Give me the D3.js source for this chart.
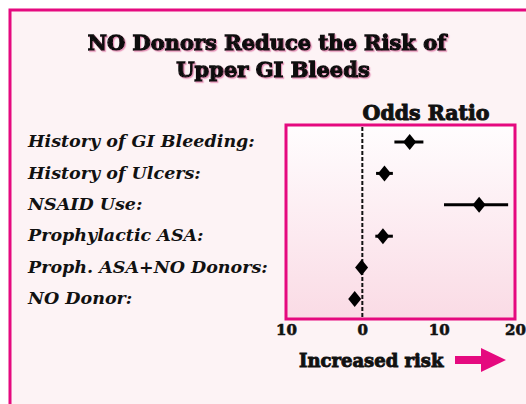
<!DOCTYPE html>
<html>
<head>
<meta charset="utf-8">
<script src="https://cdn.jsdelivr.net/npm/d3@7"></script>
<style>
  body { margin: 0; background: #fff; }
  svg { display: block; }
  .title { font-family: "DejaVu Serif", serif; font-weight: bold; fill: #111; stroke: #111; paint-order: stroke; }
</style>
</head>
<body>
<div id="chart-area"></div>
<script>
// SVG Size
var width = 526,
	height = 404;

// data
var factors = ["History of GI Bleeding:", "History of Ulcers:", "NSAID Use:", "Prophylactic ASA:", "Proph. ASA+NO Donors:", "NO Donor:"];
var oddsRatio = [6.2, 2.9, 15.3, 2.7, -0.1, -1.0];
var ciLow = [4.2, 1.8, 10.7, 1.7, -0.5, -1.5];
var ciHigh = [8.0, 4.0, 19.1, 4.0, 0.3, -0.5];
var tickValues = [-10, 0, 10, 20];
var tickLabels = ["10", "0", "10", "20"];

var pink = "#e5097f";

var svg = d3.select("#chart-area")
	.append("svg")
	.attr("width", width)
	.attr("height", height);

var defs = svg.append("defs");
var grad = defs.append("linearGradient")
	.attr("id", "plotbg")
	.attr("x1", 0).attr("y1", 0).attr("x2", 0).attr("y2", 1);
grad.append("stop").attr("offset", "0%").attr("stop-color", "#fffdfe");
grad.append("stop").attr("offset", "100%").attr("stop-color", "#fadbe5");

var shadow = defs.append("filter").attr("id", "shadow")
	.attr("x", "-5%").attr("y", "-10%").attr("width", "110%").attr("height", "130%");
shadow.append("feDropShadow")
	.attr("dx", 1.2).attr("dy", 1.2).attr("stdDeviation", 0.6)
	.attr("flood-color", "#e58fb6").attr("flood-opacity", 0.9);

// outer frame, runs off the page to the right and bottom
svg.append("rect")
	.attr("x", 10).attr("y", 10)
	.attr("width", 600).attr("height", 600)
	.attr("fill", "#fdf3f5")
	.attr("stroke", pink)
	.attr("stroke-width", 3);

// title
svg.append("text")
	.attr("class", "title")
	.attr("x", 267).attr("y", 50)
	.attr("text-anchor", "middle")
	.attr("font-size", 21)
	.attr("stroke-width", 1.3)
	.attr("filter", "url(#shadow)")
	.text("NO Donors Reduce the Risk of");
svg.append("text")
	.attr("class", "title")
	.attr("x", 273).attr("y", 77)
	.attr("text-anchor", "middle")
	.attr("font-size", 21)
	.attr("stroke-width", 1.3)
	.attr("filter", "url(#shadow)")
	.text("Upper GI Bleeds");

// scales
var x = d3.scaleLinear()
	.domain([-10, 20])
	.range([286, 515]);

var y = d3.scalePoint()
	.domain(factors)
	.range([142, 299]);

var boxTop = 125, boxBottom = 319;

// plot box
svg.append("rect")
	.attr("x", x(-10)).attr("y", boxTop)
	.attr("width", x(20) - x(-10)).attr("height", boxBottom - boxTop)
	.attr("fill", "url(#plotbg)")
	.attr("stroke", pink)
	.attr("stroke-width", 3);

svg.append("text")
	.attr("class", "title")
	.attr("x", 426).attr("y", 120)
	.attr("text-anchor", "middle")
	.attr("font-size", 20.5)
	.attr("stroke-width", 1)
	.text("Odds Ratio");

// zero line
svg.append("line")
	.attr("x1", x(0)).attr("x2", x(0))
	.attr("y1", boxTop + 2).attr("y2", boxBottom - 2)
	.attr("stroke", "#111")
	.attr("stroke-width", 2)
	.attr("stroke-dasharray", "4,2");

// x axis (labels only)
var xAxis = d3.axisBottom(x)
	.tickValues(tickValues)
	.tickSize(0)
	.tickFormat(function(d, i) { return tickLabels[i]; });

var gx = svg.append("g")
	.attr("class", "axis x-axis")
	.attr("transform", "translate(0," + (boxBottom + 2) + ")")
	.call(xAxis);
gx.select(".domain").remove();
gx.selectAll("text")
	.attr("font-family", "DejaVu Serif, serif")
	.attr("font-weight", "bold")
	.attr("font-size", 15)
	.attr("fill", "#111")
	.attr("stroke", "#111")
	.attr("stroke-width", 0.6);

// row labels
svg.selectAll(".label")
	.data(factors)
	.enter()
	.append("text")
	.attr("class", "label")
	.attr("x", 28)
	.attr("y", function(d) { return y(d) - 1; })
	.attr("dy", "0.35em")
	.attr("font-family", "DejaVu Serif, serif")
	.attr("font-style", "italic")
	.attr("font-weight", "bold")
	.attr("font-size", 17.5)
	.attr("fill", "#111")
	.text(function(d) { return d; });

// error bars
svg.selectAll(".ci")
	.data(factors)
	.enter()
	.append("line")
	.attr("class", "ci")
	.attr("x1", function(d, i) { return x(ciLow[i]); })
	.attr("x2", function(d, i) { return x(ciHigh[i]); })
	.attr("y1", function(d) { return y(d); })
	.attr("y2", function(d) { return y(d); })
	.attr("stroke", "#000")
	.attr("stroke-width", 3);

// diamonds
svg.selectAll(".pt")
	.data(factors)
	.enter()
	.append("path")
	.attr("class", "pt")
	.attr("d", "M0,-8L6.5,0L0,8L-6.5,0Z")
	.attr("transform", function(d, i) { return "translate(" + x(oddsRatio[i]) + "," + y(d) + ")"; })
	.attr("fill", "#000");

// increased risk label + arrow
svg.append("text")
	.attr("class", "title")
	.attr("x", 299).attr("y", 367)
	.attr("font-size", 18)
	.attr("stroke-width", 0.9)
	.text("Increased risk");

svg.append("path")
	.attr("d", "M455,356L481,356L481,348L506,360L481,372L481,364L455,364Z")
	.attr("fill", pink);
</script>
</body>
</html>
